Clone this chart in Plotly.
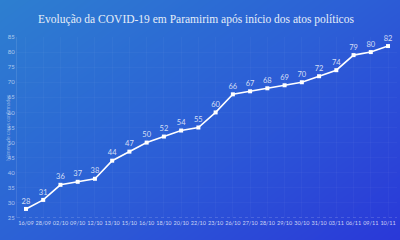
import numpy as np
import plotly.graph_objects as go

dates = ["16/09", "28/09", "02/10", "09/10", "12/10", "13/10", "15/10", "16/10",
         "18/10", "20/10", "22/10", "23/10", "26/10", "27/10", "28/10", "29/10",
         "30/10", "31/10", "03/11", "06/11", "09/11", "10/11"]
casos = [28, 31, 36, 37, 38, 44, 47, 50, 52, 54, 55, 60, 66, 67, 68, 69, 70, 72, 74, 79, 80, 82]
y_ticks = [25, 30, 35, 40, 45, 50, 55, 60, 65, 70, 75, 80, 85]

W, H = 400, 240
# background gradient (full paper)
gx = np.linspace(0, 1, 60)
gy = np.linspace(0, 1, 40)
Z = np.array([[0.55 * u + 0.45 * v for u in gx] for v in gy])
bg = go.Heatmap(z=Z, x=gx, y=gy, xaxis="x", yaxis="y", showscale=False,
                colorscale=[[0, "#2d7fd0"], [0.5, "#2c5fd6"], [1, "#2a38d8"]],
                hoverinfo="skip", zsmooth="best")

line = go.Scatter(x=list(range(len(dates))), y=casos, mode="lines+markers+text",
                  xaxis="x2", yaxis="y2",
                  text=[str(v) for v in casos], textposition="top center",
                  textfont=dict(family="Lato", size=7.5, color="rgba(255,255,255,0.8)"),
                  line=dict(color="white", width=1.6),
                  marker=dict(symbol="square", size=4, color="white"),
                  cliponaxis=False, hoverinfo="skip")

fig = go.Figure([bg, line])
x0, x1 = 17 / W, 397 / W
y0, y1 = (H - 218) / H, (H - 37) / H
fig.update_layout(
    width=W, height=H, margin=dict(l=0, r=0, t=0, b=0),
    paper_bgcolor="#2a5fd4", plot_bgcolor="rgba(0,0,0,0)", showlegend=False,
    xaxis=dict(domain=[0, 1], range=[0, 1], visible=False),
    yaxis=dict(domain=[0, 1], range=[1, 0], visible=False),
    xaxis2=dict(domain=[x0, x1], range=[-0.52, len(dates) - 0.48], anchor="y2",
                tickvals=list(range(len(dates))), ticktext=dates, tickangle=0,
                tickfont=dict(family="Lato", size=5.5, color="rgba(255,255,255,0.75)"),
                showgrid=True, gridcolor="rgba(255,255,255,0.03)", zeroline=False,
                showline=False, ticks="", ticklen=0, automargin=False),
    yaxis2=dict(domain=[y0, y1], range=[25, 85], tickvals=y_ticks, anchor="x2",
                tickfont=dict(family="Lato", size=6, color="rgba(255,255,255,0.6)"),
                showgrid=True, gridcolor="rgba(255,255,255,0.03)", zeroline=False,
                showline=True, linecolor="rgba(255,255,255,0.1)", ticks="",
                automargin=False),
    title=dict(text="Evolução da COVID-19 em Paramirim após início dos atos políticos",
               x=0.49, xanchor="center", y=1 - 19 / H, yanchor="middle",
               font=dict(family="Liberation Serif", size=11.5, color="#e6eef8")),
    shapes=[dict(type="line", xref="paper", yref="y2", x0=x0, x1=x1, y0=25, y1=25,
                 line=dict(color="rgba(255,255,255,0.3)", width=1, dash="dot"))],
    annotations=[dict(text="Número de casos confirmados", xref="paper", yref="paper",
                      x=3 / W, y=1 - 128 / H, textangle=-90, showarrow=False,
                      font=dict(family="Lato", size=5, color="rgba(255,255,255,0.45)"))],
)
fig.write_html("out.html")
